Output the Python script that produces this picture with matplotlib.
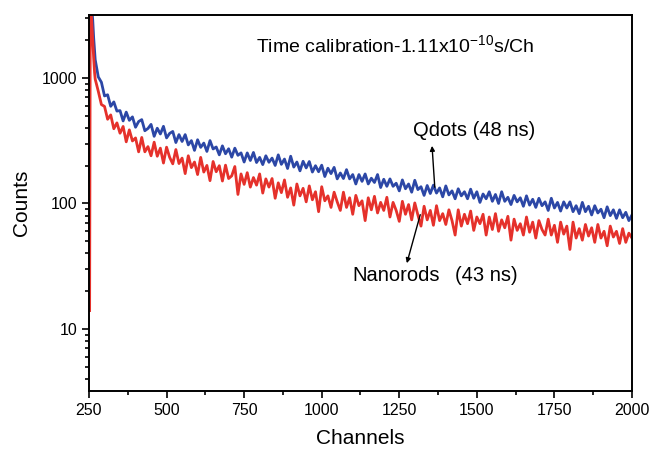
import numpy as np
import matplotlib
matplotlib.use('Agg')
import matplotlib.pyplot as plt
from matplotlib.ticker import LogLocator, NullFormatter, MultipleLocator

plt.rcParams['font.family'] = ['Liberation Sans', 'DejaVu Sans']

# rising edge
qd_edge_ch = [250, 251, 252, 253, 256, 259, 262, 265, 268]
qd_edge = [15, 200, 1800, 4000, 4300, 3600, 2900, 2100, 1650]
nr_edge_ch = [252, 253, 254, 256, 259, 262, 265, 268]
nr_edge = [14, 300, 2500, 3800, 2800, 2000, 1450, 1100]

# decay tail, every 10 channels from 270 to 2000
tail_ch = np.arange(270, 2001, 10)

qdots = [
    1400, 1020, 925, 720, 735, 595, 645, 545, 550, 455,
    535, 460, 490, 405, 450, 466, 380, 396, 427, 343,
    398, 358, 412, 333, 362, 375, 306, 354, 312, 354,
    293, 317, 265, 322, 280, 303, 260, 317, 272, 282,
    244, 288, 249, 273, 234, 276, 242, 253, 214, 253,
    220, 255, 212, 233, 204, 240, 213, 230, 201, 244,
    205, 226, 190, 238, 195, 214, 182, 217, 192, 216,
    178, 200, 179, 202, 164, 191, 173, 194, 157, 175,
    158, 186, 157, 170, 143, 170, 150, 172, 143, 159,
    147, 170, 134, 156, 137, 157, 137, 145, 126, 154,
    131, 143, 123, 153, 129, 136, 116, 139, 120, 140,
    121, 133, 113, 138, 117, 126, 109, 131, 115, 124,
    109, 130, 110, 124, 102, 119, 109, 124, 104, 118,
    100, 124, 104, 112, 98, 116, 103, 111, 95, 115,
    97, 108, 93, 110, 96, 103, 88, 110, 92, 102,
    87, 103, 92, 103, 86, 96, 83, 102, 86, 95,
    81, 96, 84, 90, 77, 94, 80, 89, 76, 89,
    77, 85, 73, 81,
]

nanorods = [
    980, 783, 614, 594, 469, 508, 394, 439, 363, 411,
    310, 386, 315, 333, 258, 336, 258, 284, 240, 308,
    238, 276, 210, 281, 233, 207, 269, 208, 230, 173,
    240, 193, 214, 170, 233, 178, 201, 152, 216, 179,
    200, 151, 202, 158, 166, 197, 118, 172, 142, 176,
    135, 161, 140, 172, 121, 157, 135, 158, 110, 146,
    122, 154, 112, 133, 97, 143, 115, 132, 103, 138,
    107, 124, 86, 136, 105, 115, 93, 123, 103, 88,
    123, 93, 111, 82, 116, 96, 105, 73, 111, 89,
    114, 84, 102, 88, 112, 78, 102, 88, 72, 104,
    82, 98, 74, 101, 81, 66, 95, 74, 88, 67,
    96, 73, 83, 68, 89, 73, 56, 89, 66, 82,
    69, 87, 61, 78, 69, 82, 56, 78, 62, 83,
    60, 74, 64, 79, 51, 75, 61, 69, 56, 78,
    59, 71, 53, 73, 62, 56, 75, 56, 67, 49,
    71, 57, 66, 43, 71, 53, 63, 51, 68, 55,
    64, 49, 68, 53, 60, 46, 66, 54, 60, 48,
    63, 49, 58, 53,
]

qd_x = np.concatenate([qd_edge_ch, tail_ch])
qd_y = np.concatenate([qd_edge, qdots])
nr_x = np.concatenate([nr_edge_ch, tail_ch])
nr_y = np.concatenate([nr_edge, nanorods])

fig = plt.figure(figsize=(6.52, 4.49), dpi=100)
ax = fig.add_axes([0.1365, 0.1292, 0.8328, 0.8374])

ax.plot(qd_x, qd_y, color='#2c47a6', lw=2.0)
ax.plot(nr_x, nr_y, color='#e5312b', lw=2.0)

ax.set_yscale('log')
ax.set_xlim(250, 2000)
ax.set_ylim(3.2, 3180)

ax.xaxis.set_major_locator(MultipleLocator(250))
ax.xaxis.set_minor_locator(MultipleLocator(125))
ax.yaxis.set_major_locator(LogLocator(base=10, subs=(1.0,)))
ax.yaxis.set_minor_locator(LogLocator(base=10, subs=np.arange(2, 10)))
ax.yaxis.set_minor_formatter(NullFormatter())
ax.set_yticks([10, 100, 1000])
ax.set_yticklabels(['10', '100', '1000'])

ax.tick_params(which='both', direction='out', top=False, right=False,
               labelsize=11.5, width=1.2)
ax.tick_params(which='major', length=5)
ax.tick_params(which='minor', length=3)
for s in ax.spines.values():
    s.set_linewidth(1.4)

ax.set_xlabel('Channels', fontsize=15, labelpad=8)
ax.set_ylabel('Counts', fontsize=15, labelpad=8)

ax.text(0.3075, 0.92, 'Time calibration-1.11x10$\\mathregular{^{-10}}$s/Ch',
        transform=ax.transAxes, fontsize=14, va='center', ha='left')

ax.annotate('', xy=(1355, 303), xytext=(1365, 128),
            arrowprops=dict(arrowstyle='-|>', color='black', lw=1.0,
                            mutation_scale=7))
ax.text(1294, 385, 'Qdots (48 ns)', fontsize=14.5, va='center', ha='left')

ax.annotate('', xy=(1272, 31.8), xytext=(1320, 85.5),
            arrowprops=dict(arrowstyle='-|>', color='black', lw=1.0,
                            mutation_scale=7))
ax.text(1098, 26.9, 'Nanorods', fontsize=14.5, va='center', ha='left')
ax.text(1430, 26.9, '(43 ns)', fontsize=14.5, va='center', ha='left')

fig.savefig('out.png', dpi=100)
